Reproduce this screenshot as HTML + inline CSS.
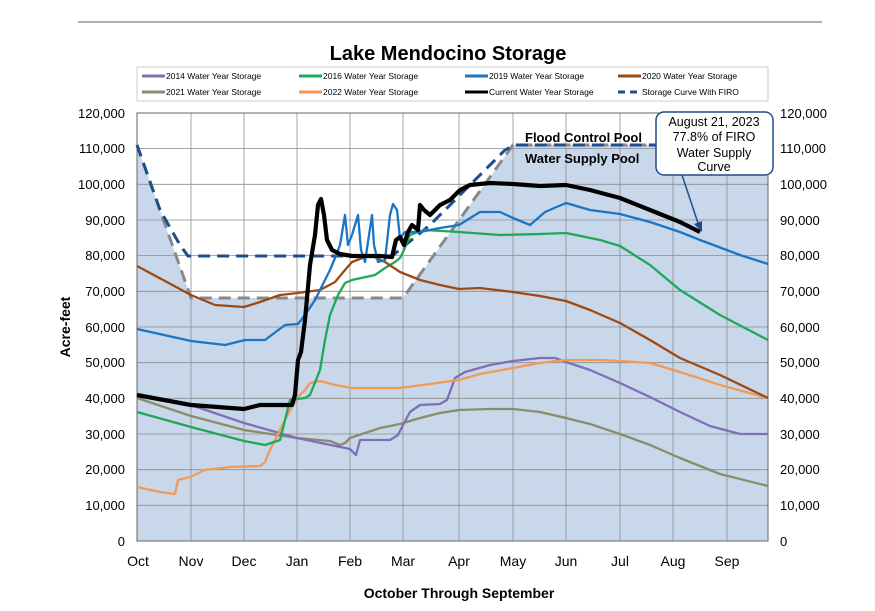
<!DOCTYPE html>
<html><head><meta charset="utf-8"><style>
body{margin:0;background:#fff;width:875px;height:611px;overflow:hidden}
svg{font-family:"Liberation Sans",Arial,sans-serif;display:block}
</style></head><body>
<svg width="875" height="611" viewBox="0 0 875 611">
<line x1="78" y1="22" x2="822" y2="22" stroke="#999" stroke-width="1.5"/>
<text x="448" y="60" font-size="20" font-weight="bold" text-anchor="middle">Lake Mendocino Storage</text>
<!-- legend -->
<rect x="137" y="67" width="631" height="34" fill="#fff" stroke="#ccc"/>
<g font-size="8.5" fill="#000">
<line x1="142" y1="76" x2="165" y2="76" stroke="#7f6fb8" stroke-width="3"/><text x="166" y="79">2014 Water Year Storage</text>
<line x1="299" y1="76" x2="322" y2="76" stroke="#1ea85a" stroke-width="3"/><text x="323" y="79">2016 Water Year Storage</text>
<line x1="465" y1="76" x2="488" y2="76" stroke="#1b75c4" stroke-width="3"/><text x="489" y="79">2019 Water Year Storage</text>
<line x1="618" y1="76" x2="641" y2="76" stroke="#9c4a12" stroke-width="3"/><text x="642" y="79">2020 Water Year Storage</text>
<line x1="142" y1="92" x2="165" y2="92" stroke="#8a8d6a" stroke-width="3"/><text x="166" y="95">2021 Water Year Storage</text>
<line x1="299" y1="92" x2="322" y2="92" stroke="#f29a55" stroke-width="3"/><text x="323" y="95">2022 Water Year Storage</text>
<line x1="465" y1="92" x2="488" y2="92" stroke="#000" stroke-width="3"/><text x="489" y="95">Current Water Year Storage</text>
<line x1="618" y1="92" x2="641" y2="92" stroke="#1f4e8c" stroke-width="3" stroke-dasharray="7,5"/><text x="642" y="95">Storage Curve With FIRO</text>
</g>
<!-- plot bg -->
<rect x="137" y="113" width="631" height="428" fill="#fff"/>
<polygon points="137,113 137,145 191,298 403,298 513,145 768,145 768,541 137,541" fill="#c8d7ea"/>
<polygon points="137,113 768,113 768,145 513,145 403,298 191,298 137,145" fill="#fff"/>
<g stroke="#8c8c8c" stroke-width="0.8">
<line x1="137" y1="148.6" x2="768" y2="148.6"/><line x1="137" y1="184.3" x2="768" y2="184.3"/><line x1="137" y1="220" x2="768" y2="220"/><line x1="137" y1="255.6" x2="768" y2="255.6"/><line x1="137" y1="291.3" x2="768" y2="291.3"/><line x1="137" y1="327" x2="768" y2="327"/><line x1="137" y1="362.7" x2="768" y2="362.7"/><line x1="137" y1="398.3" x2="768" y2="398.3"/><line x1="137" y1="434" x2="768" y2="434"/><line x1="137" y1="469.7" x2="768" y2="469.7"/><line x1="137" y1="505.3" x2="768" y2="505.3"/>
<line x1="191" y1="113" x2="191" y2="541"/><line x1="244" y1="113" x2="244" y2="541"/><line x1="297" y1="113" x2="297" y2="541"/><line x1="350" y1="113" x2="350" y2="541"/><line x1="403" y1="113" x2="403" y2="541"/><line x1="459" y1="113" x2="459" y2="541"/><line x1="513" y1="113" x2="513" y2="541"/><line x1="566" y1="113" x2="566" y2="541"/><line x1="620" y1="113" x2="620" y2="541"/><line x1="673" y1="113" x2="673" y2="541"/><line x1="727" y1="113" x2="727" y2="541"/>
</g>
<rect x="137" y="113" width="631" height="428" fill="none" stroke="#666" stroke-width="1"/>
<!-- rule curves -->
<polyline points="137,145 191,298 403,298 513,145 768,145" fill="none" stroke="#888" stroke-width="3" stroke-dasharray="12,7"/>
<polyline points="137,145 160,210 180,245 188,256 392,256 430,225 470,185 505,150 515,145 768,145" fill="none" stroke="#1f4e8c" stroke-width="3" stroke-dasharray="12,7"/>
<text x="525" y="142" font-size="13" font-weight="bold">Flood Control Pool</text>
<text x="525" y="163" font-size="13" font-weight="bold">Water Supply Pool</text>
<g fill="none" stroke-width="2.3" stroke-linejoin="round">
<polyline stroke="#8a8d6a" points="137,398 191,416 244,430 297,438 330,441 340,445 345,443 350,438 365,433 380,428 400,424 420,418 440,413 459,410 490,409 513,409 540,412 566,418 590,424 620,434 650,445 680,458 720,474 768,486"/>
<polyline stroke="#7f6fb8" points="137,396 191,405 244,423 297,438 350,449 356,455 360,440 390,440 398,435 403,425 410,412 420,405 440,404 447,400 455,378 465,372 490,365 513,361 540,358 555,358 566,362 590,370 620,383 650,397 680,412 710,426 740,434 768,434"/>
<polyline stroke="#f29a55" points="137,487 160,492 175,494 178,480 190,477 205,470 230,467 260,466 265,462 270,450 280,430 290,410 298,397 305,390 310,383 320,381 335,385 352,388 400,388 430,384 459,380 480,374 513,368 540,363 566,360 600,360 620,361 650,363 680,372 720,385 768,398"/>
<polyline stroke="#1ea85a" points="137,412 191,427 244,441 265,445 280,440 290,400 305,398 310,395 320,370 325,340 330,315 338,295 345,283 352,280 375,275 385,268 395,262 400,258 404,250 410,235 418,232 425,230 459,232 500,235 540,234 566,233 600,240 620,246 650,265 680,290 720,315 768,340"/>
<polyline stroke="#9c4a12" points="137,266 191,295 215,305 244,307 260,302 280,295 298,293 320,290 335,282 345,270 352,262 370,255 385,262 400,272 420,280 440,285 459,289 480,288 513,292 540,296 566,301 590,310 620,323 650,340 680,358 720,375 768,398"/>
<polyline stroke="#1b75c4" points="137,329 191,341 225,345 245,340 265,340 285,325 298,324 305,315 315,300 320,290 325,280 330,270 335,258 340,245 345,215 348,245 352,235 358,215 361,250 365,262 372,215 374,245 378,262 385,260 390,215 393,204 397,210 400,238 405,232 420,232 440,228 459,225 480,212 500,212 513,218 530,225 545,212 566,203 590,210 620,214 650,222 680,232 700,240 740,255 768,264"/>
<polyline stroke="#000" stroke-width="4.2" points="137,395 191,405 244,409 260,405 292,405 295,395 298,360 301,352 305,320 310,265 315,235 318,205 321,199 324,215 327,240 332,250 340,254 352,256 380,256 392,257 396,240 400,237 404,245 408,232 412,225 418,230 420,205 424,210 430,215 440,205 450,200 460,190 470,185 490,183 513,184 540,186 566,185 590,190 620,198 650,210 680,222 700,232"/>
</g>
<!-- annotation -->
<line x1="682" y1="175" x2="699" y2="226" stroke="#1f4e8c" stroke-width="1.5"/>
<polygon points="702,232 694,224 702,221" fill="#1f4e8c"/>
<rect x="656" y="112" width="117" height="63" rx="8" fill="#fff" stroke="#1f4e8c" stroke-width="1.5"/>
<g font-size="12.5" text-anchor="middle"><text x="714" y="126">August 21, 2023</text><text x="714" y="141">77.8% of FIRO</text><text x="714" y="157">Water Supply</text><text x="714" y="171">Curve</text></g>
<!-- axes labels -->
<g font-size="13" text-anchor="end">
<text x="125" y="118">120,000</text><text x="125" y="153">110,000</text><text x="125" y="189">100,000</text><text x="125" y="225">90,000</text><text x="125" y="260">80,000</text><text x="125" y="296">70,000</text><text x="125" y="332">60,000</text><text x="125" y="367">50,000</text><text x="125" y="403">40,000</text><text x="125" y="439">30,000</text><text x="125" y="474">20,000</text><text x="125" y="510">10,000</text><text x="125" y="546">0</text>
</g>
<g font-size="13">
<text x="780" y="118">120,000</text><text x="780" y="153">110,000</text><text x="780" y="189">100,000</text><text x="780" y="225">90,000</text><text x="780" y="260">80,000</text><text x="780" y="296">70,000</text><text x="780" y="332">60,000</text><text x="780" y="367">50,000</text><text x="780" y="403">40,000</text><text x="780" y="439">30,000</text><text x="780" y="474">20,000</text><text x="780" y="510">10,000</text><text x="780" y="546">0</text>
</g>
<g font-size="14" text-anchor="middle">
<text x="138" y="566">Oct</text><text x="191" y="566">Nov</text><text x="244" y="566">Dec</text><text x="297" y="566">Jan</text><text x="350" y="566">Feb</text><text x="403" y="566">Mar</text><text x="459" y="566">Apr</text><text x="513" y="566">May</text><text x="566" y="566">Jun</text><text x="620" y="566">Jul</text><text x="673" y="566">Aug</text><text x="727" y="566">Sep</text>
</g>
<text x="459" y="598" font-size="14" font-weight="bold" text-anchor="middle">October Through September</text>
<text transform="translate(70,327) rotate(-90)" font-size="14" font-weight="bold" text-anchor="middle">Acre-feet</text>
</svg>
</body></html>
